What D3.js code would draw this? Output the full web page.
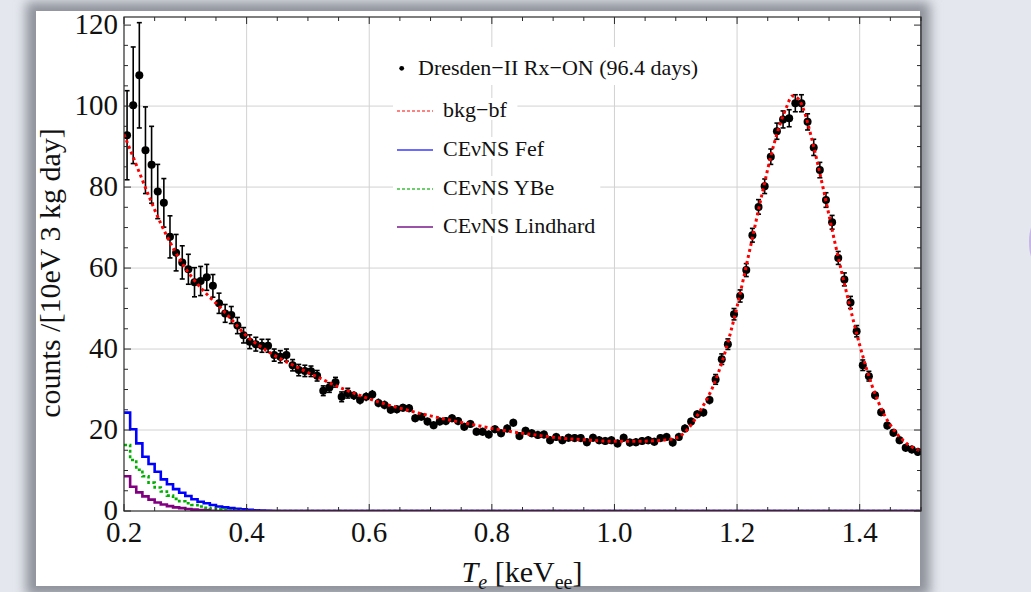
<!DOCTYPE html>
<html>
<head>
<meta charset="utf-8">
<script src="https://cdn.jsdelivr.net/npm/d3@7"></script>
<style>
  body { margin: 0; background: #e4e7ee; }
  svg { display: block; }
  text { font-family: "Liberation Serif", "Times New Roman", Times, Tinos, serif; fill: #111; }
</style>
</head>
<body>
<div id="chart"></div>
<script>
// measured spectrum, 10 eV bins starting at 0.2 keV
var binStart = 0.2;
var binWidth = 0.01;
var counts = [
  92.8, 100.2, 107.6, 89.1, 85.5, 78.9, 76.1, 67.7, 63.8, 61.4,
  59.7, 56.5, 56.8, 57.7, 55.6, 51.3, 48.8, 48.4, 45.8, 43.4,
  41.8, 41.2, 40.8, 40.8, 38.5, 38.1, 38.5, 36.0, 34.8, 34.6,
  34.5, 33.4, 29.7, 30.5, 31.8, 28.2, 29.1, 28.5, 27.4, 28.2,
  28.8, 26.7, 26.2, 25.0, 25.1, 25.5, 25.4, 22.9, 23.3, 22.1,
  21.2, 22.1, 22.2, 22.9, 22.2, 20.8, 21.5, 19.6, 19.6, 18.9,
  20.2, 19.2, 20.4, 21.8, 18.5, 19.8, 19.2, 18.8, 18.9, 17.5,
  18.3, 17.5, 18.1, 18.0, 18.0, 17.0, 18.1, 17.5, 17.3, 17.5,
  16.7, 18.1, 16.9, 17.0, 17.3, 17.5, 17.1, 18.0, 18.3, 16.9,
  18.3, 20.4, 22.1, 23.9, 24.3, 27.4, 32.5, 37.5, 41.2, 48.6,
  53.1, 59.5, 68.1, 75.1, 80.2, 87.5, 93.8, 96.7, 97.0, 100.7,
  100.7, 96.1, 89.8, 84.2, 76.8, 71.3, 62.5, 57.2, 51.5, 44.4,
  36.0, 33.3, 28.6, 24.4, 21.1, 19.3, 17.5, 15.6, 15.2, 14.6
];
var errors = [
  11.0, 14.4, 13.0, 10.7, 9.5, 6.7, 6.0, 5.2, 4.5, 4.1,
  3.7, 3.6, 3.6, 3.2, 2.8, 2.5, 2.2, 2.1, 2.0, 1.9,
  1.7, 1.7, 1.6, 1.6, 1.5, 1.5, 1.5, 1.4, 1.4, 1.4,
  1.3, 1.3, 1.2, 1.2, 1.2, 1.2, 1.2, 1.1, 1.1, 1.1,
  1.1, 1.1, 1.1, 1.0, 1.0, 1.0, 1.0, 1.0, 1.0, 1.0,
  1.0, 1.0, 1.0, 1.0, 1.0, 1.0, 1.0, 1.0, 1.0, 1.0,
  1.0, 1.0, 1.0, 1.0, 1.0, 1.0, 1.0, 1.0, 1.0, 1.0,
  1.0, 1.0, 1.0, 1.0, 1.0, 1.0, 1.0, 1.0, 1.0, 1.0,
  1.0, 1.0, 1.0, 1.0, 1.0, 1.0, 1.0, 1.0, 1.0, 1.0,
  1.0, 1.0, 1.0, 1.0, 1.0, 1.1, 1.2, 1.3, 1.3, 1.4,
  1.5, 1.6, 1.7, 1.8, 1.8, 1.9, 2.0, 2.1, 2.1, 2.1,
  2.1, 2.0, 2.0, 1.9, 1.8, 1.7, 1.6, 1.6, 1.5, 1.4,
  1.3, 1.2, 1.1, 1.0, 1.0, 1.0, 1.0, 1.0, 1.0, 1.0
];

// background best fit (bkg-bf)
var bkgE = [0.20, 0.22, 0.24, 0.26, 0.28, 0.30, 0.32, 0.34, 0.36, 0.38,
  0.40, 0.42, 0.44, 0.46, 0.48, 0.50, 0.52, 0.54, 0.56, 0.58,
  0.60, 0.62, 0.64, 0.66, 0.68, 0.70, 0.72, 0.74, 0.76, 0.78,
  0.80, 0.82, 0.84, 0.86, 0.88, 0.90, 0.92, 0.94, 0.96, 0.98,
  1.00, 1.02, 1.04, 1.06, 1.08, 1.10, 1.12, 1.14, 1.16, 1.18,
  1.20, 1.22, 1.24, 1.26, 1.27, 1.28, 1.29, 1.30, 1.31, 1.32,
  1.34, 1.36, 1.38, 1.40, 1.42, 1.44, 1.46, 1.48, 1.50];
var bkgV = [93.0, 85.5, 78.0, 71.0, 65.0, 60.0, 56.0, 52.8, 49.8, 46.5,
  43.2, 40.9, 38.9, 37.2, 35.7, 34.2, 32.8, 31.3, 30.0, 28.8,
  27.7, 26.7, 25.8, 25.0, 24.2, 23.5, 22.8, 22.2, 21.6, 21.0,
  20.4, 19.9, 19.4, 19.0, 18.6, 18.2, 17.9, 17.7, 17.5, 17.3,
  17.2, 17.2, 17.2, 17.3, 17.5, 18.0, 20.3, 24.8, 30.5, 39.0,
  50.5, 64.0, 77.8, 90.5, 95.5, 99.5, 102.5, 101.8, 98.5, 93.0,
  80.0, 66.0, 53.0, 41.0, 31.0, 23.8, 19.2, 16.3, 14.8];

// CEvNS predictions, same 10 eV bins from 0.2 keV
var fefV = [24.3, 20.2, 16.7, 13.4, 11.6, 9.7, 7.8, 6.6, 5.4, 4.5,
  3.7, 2.9, 2.3, 1.9, 1.5, 1.1, 0.9, 0.7, 0.55, 0.4,
  0.3, 0.2, 0.12, 0.06];
var ybeV = [16.3, 12.6, 10.2, 8.6, 7.0, 5.8, 4.8, 3.8, 3.0, 2.4,
  1.9, 1.5, 1.1, 0.8, 0.6, 0.4, 0.3, 0.2, 0.1];
var lindV = [8.6, 6.0, 4.6, 3.6, 2.8, 2.1, 1.6, 1.2, 0.9, 0.7,
  0.5, 0.35, 0.25, 0.15, 0.08];

var xTicks = [0.2, 0.4, 0.6, 0.8, 1.0, 1.2, 1.4];
var yTicks = [0, 20, 40, 60, 80, 100, 120];
var legendLabels = ["Dresden\u2212II Rx\u2212ON (96.4 days)", "bkg\u2212bf", "CE\u03bdNS Fef", "CE\u03bdNS YBe", "CE\u03bdNS Lindhard"];

let W = 1031, H = 592;
let svg = d3.select("#chart").append("svg")
  .attr("width", W).attr("height", H);

// page backdrop + panel shadow
let defs = svg.append("defs");
defs.append("filter").attr("id", "blur")
  .attr("x", "-10%").attr("y", "-10%").attr("width", "120%").attr("height", "120%")
  .append("feGaussianBlur").attr("stdDeviation", 6);
defs.append("clipPath").attr("id", "plotclip")
  .append("rect").attr("x", 124).attr("y", 17).attr("width", 797).attr("height", 494);

svg.append("rect").attr("width", W).attr("height", H).attr("fill", "#e4e7ee");
svg.append("ellipse").attr("cx", 1037).attr("cy", 242).attr("rx", 8).attr("ry", 22)
  .attr("fill", "#c6b6e6");
svg.append("rect").attr("x", 26).attr("y", 2).attr("width", 904).attr("height", 594)
  .attr("fill", "#8e929a").attr("filter", "url(#blur)");
svg.append("rect").attr("x", 36).attr("y", 11).attr("width", 884).attr("height", 575)
  .attr("fill", "#fff");

// scales
var x = d3.scaleLinear().domain([0.2, 1.5]).range([124, 921]);
var y = d3.scaleLinear().domain([0, 122]).range([511, 17]);

var g = svg.append("g");

// grid
g.selectAll(".gx").data(xTicks.slice(1)).enter().append("line")
  .attr("x1", d => x(d)).attr("x2", d => x(d))
  .attr("y1", y.range()[1]).attr("y2", y.range()[0])
  .attr("stroke", "#d2d2d2").attr("stroke-width", 1);
g.selectAll(".gy").data(yTicks.slice(1, -1)).enter().append("line")
  .attr("x1", x.range()[0]).attr("x2", x.range()[1])
  .attr("y1", d => y(d)).attr("y2", d => y(d))
  .attr("stroke", "#d2d2d2").attr("stroke-width", 1);

// legend backing boxes (hide grid under legend text)
var legY = [75, 117, 156, 195, 233];
var lg = svg.append("g");

// data points with error bars
var pts = counts.map((v, i) => ({e: binStart + binWidth * (i + 0.5), v: v, s: errors[i]}));
var plot = svg.append("g").attr("clip-path", "url(#plotclip)");

// CEvNS histograms
function steps(vals) {
  var p = [];
  vals.forEach((v, i) => {
    p.push([binStart + binWidth * i, v]);
    p.push([binStart + binWidth * (i + 1), v]);
  });
  p.push([binStart + binWidth * vals.length, 0]);
  p.push([x.domain()[1], 0]);
  return p;
}
var stepLine = d3.line().x(d => x(d[0])).y(d => y(d[1]));

var eb = plot.append("g");
eb.selectAll("line.bar").data(pts).enter().append("line")
  .attr("x1", d => x(d.e)).attr("x2", d => x(d.e))
  .attr("y1", d => y(d.v - d.s)).attr("y2", d => y(d.v + d.s))
  .attr("stroke", "#000").attr("stroke-width", 1.6);
eb.selectAll("line.cap1").data(pts.filter(d => d.s > 1.1)).enter().append("line")
  .attr("x1", d => x(d.e) - 2.5).attr("x2", d => x(d.e) + 2.5)
  .attr("y1", d => y(d.v + d.s)).attr("y2", d => y(d.v + d.s))
  .attr("stroke", "#000").attr("stroke-width", 1.6);
eb.selectAll("line.cap2").data(pts.filter(d => d.s > 1.1)).enter().append("line")
  .attr("x1", d => x(d.e) - 2.5).attr("x2", d => x(d.e) + 2.5)
  .attr("y1", d => y(d.v - d.s)).attr("y2", d => y(d.v - d.s))
  .attr("stroke", "#000").attr("stroke-width", 1.6);
eb.selectAll("circle").data(pts).enter().append("circle")
  .attr("cx", d => x(d.e)).attr("cy", d => y(d.v)).attr("r", 4)
  .attr("fill", "#000");

plot.append("path").datum(steps(fefV)).attr("d", stepLine)
  .attr("fill", "none").attr("stroke", "#0000ff").attr("stroke-width", 2.6);
plot.append("path").datum(steps(ybeV)).attr("d", stepLine)
  .attr("fill", "none").attr("stroke", "#00b000").attr("stroke-width", 2.6)
  .attr("stroke-dasharray", "3,2.5");
plot.append("path").datum(steps(lindV)).attr("d", stepLine)
  .attr("fill", "none").attr("stroke", "#800080").attr("stroke-width", 2.6);

// background fit, dotted red
plot.append("path")
  .datum(bkgE.map((e, i) => [e, bkgV[i]]))
  .attr("d", d3.line().x(d => x(d[0])).y(d => y(d[1])).curve(d3.curveMonotoneX))
  .attr("fill", "none").attr("stroke", "#ff0000").attr("stroke-width", 3)
  .attr("stroke-dasharray", "3,3.2");

// frame + ticks (inside, Mathematica style)
var ax = svg.append("g");
ax.append("rect").attr("x", 124).attr("y", 17).attr("width", 797).attr("height", 494)
  .attr("fill", "none").attr("stroke", "#2a2a2a").attr("stroke-width", 1.2);

var xMinor = d3.range(0.2, 1.5001, 0.05);
ax.selectAll(".xt").data(xMinor).enter().append("g").each(function(d, i) {
  var len = (i % 4 === 0) ? 7 : 4;
  d3.select(this).append("line")
    .attr("x1", x(d)).attr("x2", x(d)).attr("y1", 511).attr("y2", 511 - len)
    .attr("stroke", "#2a2a2a").attr("stroke-width", 1);
  d3.select(this).append("line")
    .attr("x1", x(d)).attr("x2", x(d)).attr("y1", 17).attr("y2", 17 + len)
    .attr("stroke", "#2a2a2a").attr("stroke-width", 1);
});
var yMinor = d3.range(0, 121, 5);
ax.selectAll(".yt").data(yMinor).enter().append("g").each(function(d) {
  var len = (d % 20 === 0) ? 7 : 4;
  d3.select(this).append("line")
    .attr("x1", 124).attr("x2", 124 + len).attr("y1", y(d)).attr("y2", y(d))
    .attr("stroke", "#2a2a2a").attr("stroke-width", 1);
  d3.select(this).append("line")
    .attr("x1", 921).attr("x2", 921 - len).attr("y1", y(d)).attr("y2", y(d))
    .attr("stroke", "#2a2a2a").attr("stroke-width", 1);
});

// tick labels
ax.selectAll(".xl").data(xTicks).enter().append("text")
  .attr("x", d => x(d)).attr("y", 542)
  .attr("text-anchor", "middle").attr("font-size", 29)
  .text(d => d.toFixed(1));
ax.selectAll(".yl").data(yTicks).enter().append("text")
  .attr("x", 118).attr("y", d => y(d) + 9)
  .attr("text-anchor", "end").attr("font-size", 29)
  .text(d => d);

// axis titles
var xt = ax.append("text").attr("x", 522).attr("y", 582)
  .attr("text-anchor", "middle").attr("font-size", 30);
xt.append("tspan").attr("font-style", "italic").text("T");
xt.append("tspan").attr("font-style", "italic").attr("font-size", 20).attr("dy", 7).text("e");
xt.append("tspan").attr("dy", -7).text(" [keV");
xt.append("tspan").attr("font-size", 20).attr("dy", 7).text("ee");
xt.append("tspan").attr("dy", -7).text("]");

ax.append("text")
  .attr("transform", "translate(60,273) rotate(-90)")
  .attr("text-anchor", "middle").attr("font-size", 30)
  .text("counts /[10eV 3 kg day]");

// legend
var legText = [];
legendLabels.forEach((t, i) => {
  var tx = i === 0 ? 418 : 443;
  var el = lg.append("text").attr("x", tx).attr("y", legY[i])
    .attr("font-size", 22).attr("fill", "#151525").text(t);
  legText.push(el);
});
var ends = legText.map(el => el.node().getBBox().x + el.node().getBBox().width);
var wide = d3.max(ends.slice(2));
legText.forEach((el, i) => {
  var right = i === 0 ? ends[0] + 4 : (i === 1 ? ends[1] + 10 : wide + 5);
  var top = i === 0 ? 47 : legY[i] - 19;
  var bottom = i === 0 ? 85 : legY[i] + 3;
  lg.insert("rect", "text").attr("x", 393).attr("y", top)
    .attr("width", right - 393).attr("height", bottom - top).attr("fill", "#fff");
});
lg.append("circle").attr("cx", 401.7).attr("cy", 68.3).attr("r", 2.4).attr("fill", "#000");
var legStyles = [
  {c: "#ff5a5a", dash: "3,2"},
  {c: "#3a3aff", dash: null},
  {c: "#3cbf3c", dash: "3,2"},
  {c: "#7a1a8a", dash: null}
];
legStyles.forEach((s, i) => {
  var ln = lg.append("line").attr("x1", 397).attr("x2", 433)
    .attr("y1", legY[i + 1] - 6).attr("y2", legY[i + 1] - 6)
    .attr("stroke", s.c).attr("stroke-width", 1.3);
  if (s.dash) ln.attr("stroke-dasharray", s.dash);
});
</script>
</body>
</html>
